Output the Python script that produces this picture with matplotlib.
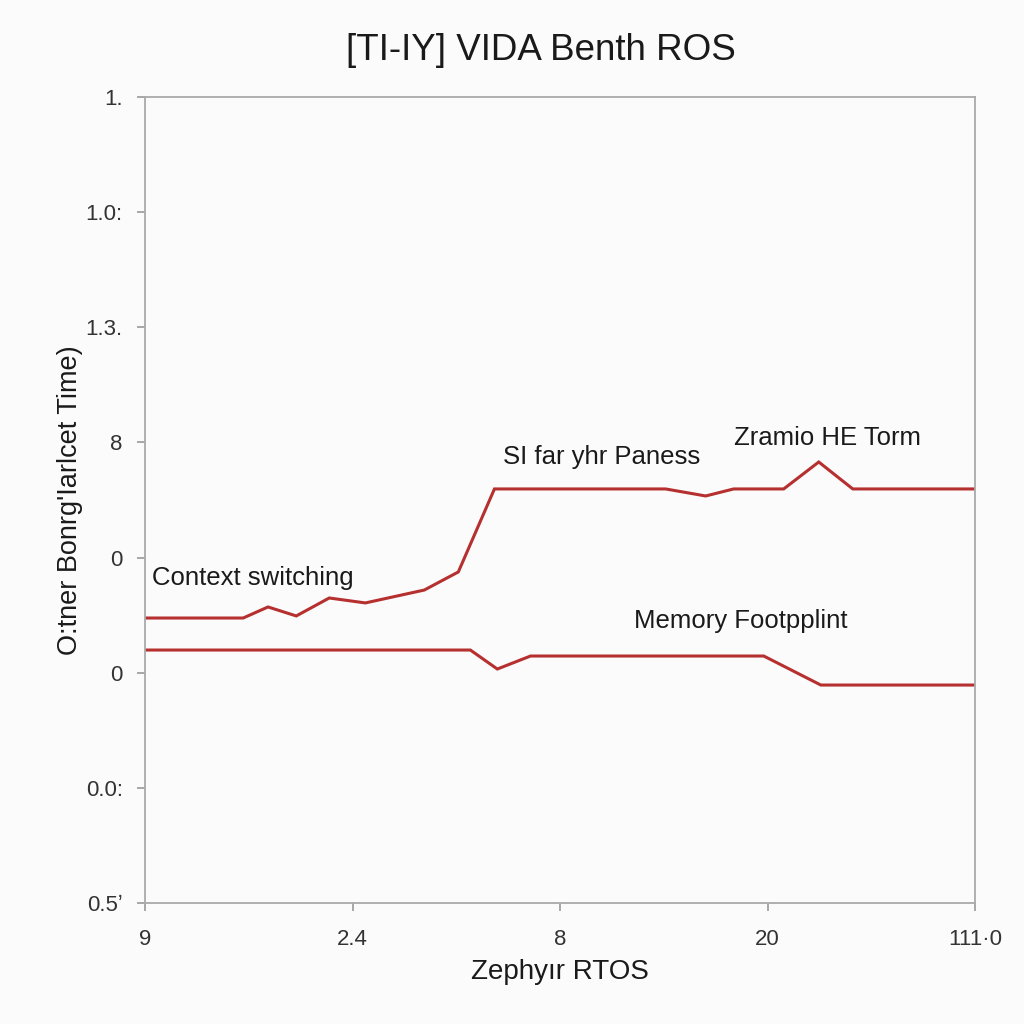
import matplotlib
matplotlib.use("Agg")
import matplotlib.pyplot as plt

plt.rcParams['font.family'] = ['Liberation Sans', 'DejaVu Sans']

# Data
x_ticks = [0, 1, 2, 3, 4]
x_tick_labels = ["9", "2.4", "8", "20", "111\u00b70"]
y_ticks = [0, 1, 2, 3, 4, 5, 6, 7]
y_tick_labels = ["0.5\u02bc", "0.0:", "0", "0", "8", "1.3.", "1.0:", "1."]

upper_x = [0, 0.473, 0.593, 0.729, 0.888, 1.062, 1.346, 1.510, 1.684, 2.509, 2.702, 2.837, 3.078, 3.247, 3.411, 4.0]
upper_y = [2.475, 2.475, 2.571, 2.493, 2.649, 2.606, 2.718, 2.875, 3.596, 3.596, 3.535, 3.596, 3.596, 3.830, 3.596, 3.596]

lower_x = [0, 1.568, 1.698, 1.858, 2.982, 3.257, 4.0]
lower_y = [2.197, 2.197, 2.032, 2.145, 2.145, 1.893, 1.893]

annotations = [
    ("Context switching", 0.035, 2.82),
    ("SI far yhr Paness", 1.725, 3.87),
    ("Zramio HE Torm", 2.837, 4.04),
    ("Memory Footpplint", 2.355, 2.45),
]

line_color = "#b5302f"

fig = plt.figure(figsize=(10.24, 10.24), dpi=100)
fig.patch.set_facecolor("#fbfbfb")
ax = fig.add_axes([145/1024, 1-903/1024, (975-145)/1024, (903-97)/1024])
ax.set_facecolor("#fbfbfb")

ax.plot(upper_x, upper_y, color=line_color, lw=2.2, solid_joinstyle="miter")
ax.plot(lower_x, lower_y, color=line_color, lw=2.2, solid_joinstyle="miter")

for txt, tx, ty in annotations:
    ax.text(tx, ty, txt, fontsize=18.5, color="#1a1a1a", ha="left", va="center")

ax.set_xlim(0, 4)
ax.set_ylim(0, 7)
ax.set_xticks(x_ticks)
ax.set_xticklabels(x_tick_labels, fontsize=16, color="#333333")
ax.set_yticks(y_ticks)
ax.set_yticklabels(y_tick_labels, fontsize=16, color="#333333")
ax.tick_params(axis="y", length=6, width=1.2, color="#999999", pad=10)
ax.tick_params(axis="x", length=6, width=1.2, color="#999999", pad=13)

for s in ax.spines.values():
    s.set_color("#aaaaaa")
    s.set_linewidth(1.3)

ax.set_xlabel("Zephy\u0131r RTOS", fontsize=20, color="#1a1a1a", labelpad=6)
ax.set_ylabel("O:tner Bonrg'Iarlcet Time)", fontsize=19.5, color="#1a1a1a", labelpad=2)
fig.text(0.528, 0.951, "[TI-IY] VIDA Benth ROS", fontsize=26.5, color="#1a1a1a", ha="center", va="center")

fig.savefig("out.png", dpi=100, facecolor=fig.get_facecolor())
